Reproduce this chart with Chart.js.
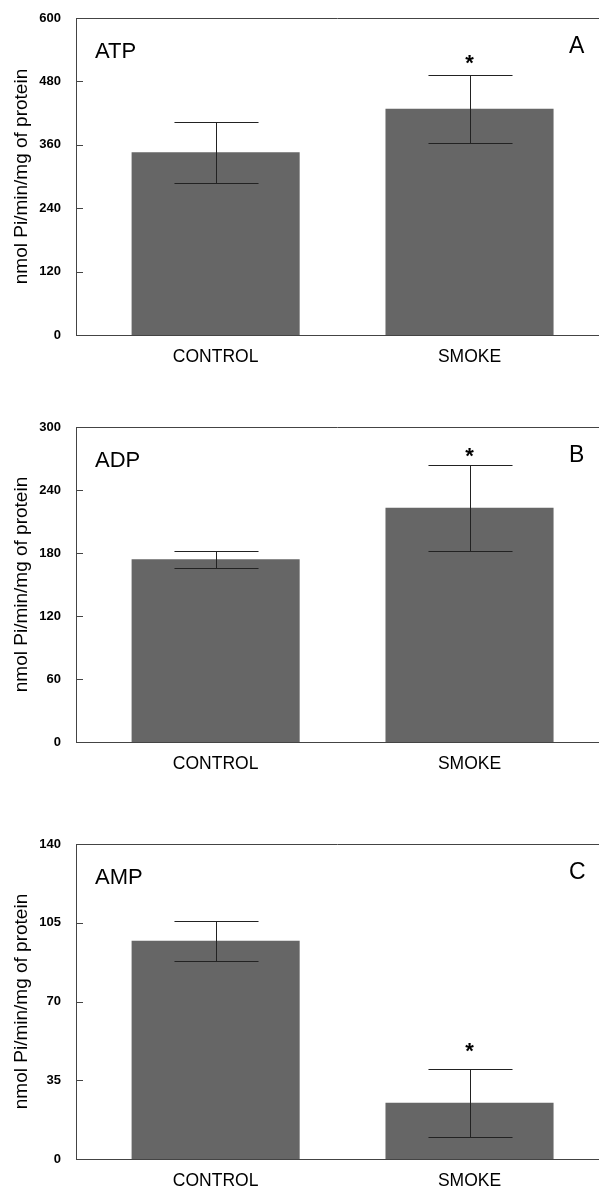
<!DOCTYPE html>
<html>
<head>
<meta charset="utf-8">
<script src="https://cdn.jsdelivr.net/npm/chart.js@4/dist/chart.umd.min.js"></script>
<style>
  body { margin: 0; background: #fff; }
  #wrap { position: relative; width: 599px; height: 1189px; }
  canvas { position: absolute; left: 0; }
</style>
</head>
<body>
<div id="wrap">
  <canvas id="atpChart" width="599" height="400" style="top:0px"></canvas>
  <canvas id="adpChart" width="599" height="400" style="top:408px"></canvas>
  <canvas id="ampChart" width="599" height="369" style="top:820px"></canvas>
</div>
<script>
// Data
const categories = ['CONTROL', 'SMOKE'];
const starred = [false, true];

const atpMean = [346, 428];
const atpErr = [58, 64];
const atpTicks = [0, 120, 240, 360, 480, 600];

const adpMean = [174, 223];
const adpErr = [8, 41];
const adpTicks = [0, 60, 120, 180, 240, 300];

const ampMean = [97, 25];
const ampErr = [9, 15];
const ampTicks = [0, 35, 70, 105, 140];

const FONT = "'Liberation Sans', Arial, Helvetica, sans-serif";
const AXIS = '#444';

function makePanel(id, mean, err, ticks, leftLabel, rightLabel, padTop, xHeight, starGap) {
  // error bars, asterisks, panel letters, inward ticks, top border
  const panelPlugin = {
    id: 'panel',
    afterDatasetsDraw(chart) {
      const ctx = chart.ctx;
      const y = chart.scales.y;
      const meta = chart.getDatasetMeta(0);
      ctx.save();
      ctx.strokeStyle = '#222';
      ctx.lineWidth = 1;
      meta.data.forEach((bar, i) => {
        const yTop = Math.round(y.getPixelForValue(mean[i] + err[i])) + 0.5;
        const yBot = Math.round(y.getPixelForValue(mean[i] - err[i])) + 0.5;
        const x = Math.round(bar.x) + 0.5;
        const half = bar.width / 4;
        ctx.beginPath();
        ctx.moveTo(x, yTop); ctx.lineTo(x, yBot);
        ctx.moveTo(x - half, yTop); ctx.lineTo(x + half, yTop);
        ctx.moveTo(x - half, yBot); ctx.lineTo(x + half, yBot);
        ctx.stroke();
        if (starred[i]) {
          ctx.font = 'bold 22px ' + FONT;
          ctx.fillStyle = '#000';
          ctx.textAlign = 'center';
          ctx.textBaseline = 'alphabetic';
          const m = ctx.measureText('*');
          const cy = yTop - starGap;
          ctx.fillText('*', bar.x, cy + (m.actualBoundingBoxAscent - m.actualBoundingBoxDescent) / 2);
        }
      });
      ctx.restore();
    },
    afterDraw(chart) {
      const ctx = chart.ctx;
      const a = chart.chartArea;
      const y = chart.scales.y;
      ctx.save();
      ctx.strokeStyle = AXIS;
      ctx.lineWidth = 1;
      ctx.beginPath();
      ctx.moveTo(a.left, Math.round(a.top) + 0.5);
      ctx.lineTo(a.right, Math.round(a.top) + 0.5);
      y.ticks.forEach(t => {
        const py = Math.round(y.getPixelForValue(t.value)) + 0.5;
        ctx.moveTo(a.left, py);
        ctx.lineTo(a.left + 7, py);
      });
      ctx.stroke();
      ctx.fillStyle = '#000';
      ctx.textBaseline = 'alphabetic';
      ctx.textAlign = 'left';
      ctx.font = '22px ' + FONT;
      ctx.fillText(leftLabel, a.left + 19, a.top + 40);
      ctx.font = '23px ' + FONT;
      ctx.fillText(rightLabel, a.right - 30, a.top + 35);
      ctx.restore();
    }
  };

  return new Chart(document.getElementById(id), {
    type: 'bar',
    data: {
      datasets: [{
        data: mean.map((v, i) => ({ x: i + 1, y: v })),
        backgroundColor: '#666666',
        borderWidth: 0,
        categoryPercentage: 1,
        barPercentage: 0.662
      }]
    },
    options: {
      responsive: false,
      animation: false,
      layout: { padding: { top: padTop, left: 0, right: 0, bottom: 0 } },
      plugins: { legend: { display: false }, tooltip: { enabled: false } },
      scales: {
        x: {
          type: 'linear',
          min: 0.45,
          max: 2.51,
          offset: false,
          grid: { display: false, drawTicks: false, offset: false },
          border: { display: true, color: AXIS },
          afterBuildTicks: s => { s.ticks = categories.map((c, i) => ({ value: i + 1 })); },
          afterFit: s => { s.height = xHeight; },
          ticks: {
            callback: v => categories[v - 1] || '',
            color: '#000',
            font: { family: FONT, size: 17.5 },
            padding: 12,
            maxRotation: 0,
            autoSkip: false
          }
        },
        y: {
          min: 0,
          max: ticks[ticks.length - 1],
          afterBuildTicks: s => { s.ticks = ticks.map(v => ({ value: v })); },
          afterFit: s => { s.width = 76; },
          // tick length only spaces the labels; marks are drawn inward by the plugin
          grid: { display: false, drawTicks: true, tickLength: 15 },
          border: { display: true, color: AXIS },
          ticks: { color: '#000', font: { family: FONT, size: 13, weight: 'bold' }, padding: 0 },
          title: {
            display: true,
            text: 'nmol Pi/min/mg of protein',
            color: '#000',
            font: { family: FONT, size: 19 },
            padding: { top: 10, bottom: 0 }
          }
        }
      }
    },
    plugins: [panelPlugin]
  });
}

makePanel('atpChart', atpMean, atpErr, atpTicks, 'ATP', 'A', 18, 65, 16);
makePanel('adpChart', adpMean, adpErr, adpTicks, 'ADP', 'B', 19, 66, 13);
makePanel('ampChart', ampMean, ampErr, ampTicks, 'AMP', 'C', 24, 30, 22);
</script>
</body>
</html>
